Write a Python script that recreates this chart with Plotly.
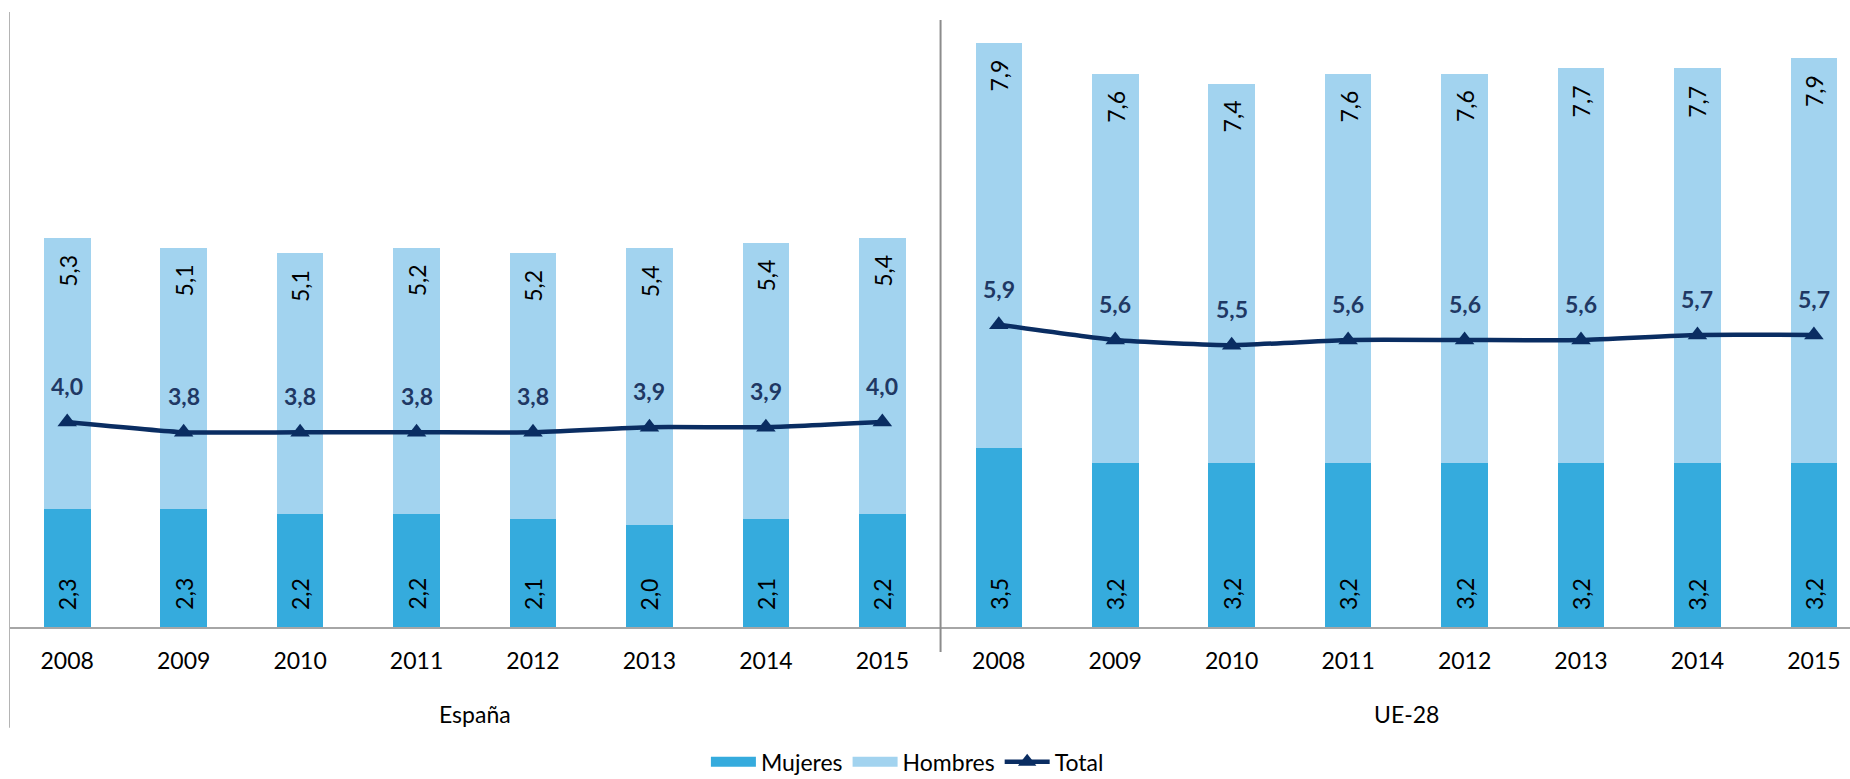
import plotly.graph_objects as go

years = ["2008", "2009", "2010", "2011", "2012", "2013", "2014", "2015"]
groups = ["España", "UE-28"]
mujeres_es = [2.3, 2.3, 2.2, 2.2, 2.1, 2.0, 2.1, 2.2]
hombres_es = [5.3, 5.1, 5.1, 5.2, 5.2, 5.4, 5.4, 5.4]
total_es = [4.0, 3.8, 3.8, 3.8, 3.8, 3.9, 3.9, 4.0]
mujeres_ue = [3.5, 3.2, 3.2, 3.2, 3.2, 3.2, 3.2, 3.2]
hombres_ue = [7.9, 7.6, 7.4, 7.6, 7.6, 7.7, 7.7, 7.9]
total_ue = [5.9, 5.6, 5.5, 5.6, 5.6, 5.6, 5.7, 5.7]

C_MUJ = "#35ABDD"
C_HOM = "#A2D3EF"
C_TOT = "#0A2D62"
C_LAB = "#1F3864"
FONT = "Lato, Calibri, sans-serif"
FS = 23

n = len(years)
x_es = list(range(n))
x_ue = [n + i for i in range(n)]
x_all = x_es + x_ue
mujeres = mujeres_es + mujeres_ue
hombres = hombres_es + hombres_ue


def fmt(v):
    return f"{v:.1f}".replace(".", ",")


fig = go.Figure()
fig.add_trace(go.Bar(x=x_all, y=mujeres, name="Mujeres", marker_color=C_MUJ,
                     width=0.4, marker_line_width=0, hoverinfo="skip",
                     legendgroup="muj", showlegend=False))
fig.add_trace(go.Bar(x=x_all, y=hombres, name="Hombres", marker_color=C_HOM,
                     width=0.4, marker_line_width=0, hoverinfo="skip",
                     legendgroup="hom", showlegend=False))
# legend-only entries with wide rectangular swatches
for name, col, grp in [("Mujeres", C_MUJ, "muj"), ("Hombres", C_HOM, "hom")]:
    fig.add_trace(go.Scatter(x=[None], y=[None], mode="lines", name=name, legendgroup=grp,
                             line=dict(color=col, width=16), hoverinfo="skip"))
for k, (xs, tot) in enumerate([(x_es, total_es), (x_ue, total_ue)]):
    fig.add_trace(go.Scatter(x=xs, y=tot, mode="lines+markers", name="Total",
                             legendgroup="total", showlegend=(k == 0),
                             line=dict(color=C_TOT, width=4.5, shape="spline", smoothing=0.5),
                             marker=dict(symbol="triangle-up", size=17, color=C_TOT)))

ann = []
for xi, m, h in zip(x_all, mujeres, hombres):
    ann.append(dict(x=xi, y=0, yshift=33, text=fmt(m), showarrow=False, textangle=-90,
                    xanchor="center", yanchor="middle", font=dict(size=FS, color="black")))
    ann.append(dict(x=xi, y=m + h, yshift=-33, text=fmt(h), showarrow=False, textangle=-90,
                    xanchor="center", yanchor="middle", font=dict(size=FS, color="black")))
for xs, tot in [(x_es, total_es), (x_ue, total_ue)]:
    for xi, t in zip(xs, tot):
        ann.append(dict(x=xi, y=t, yshift=36, text="<b>" + fmt(t) + "</b>", showarrow=False,
                        xanchor="center", yanchor="middle", font=dict(size=FS, color=C_LAB)))
for g, xs in zip(groups, [x_es, x_ue]):
    ann.append(dict(x=sum(xs) / len(xs), y=-0.1415, yref="paper", text=g, showarrow=False,
                    xanchor="center", yanchor="middle", font=dict(size=FS, color="black")))

shapes = [
    dict(type="line", xref="x", yref="paper", x0=-0.5, x1=-0.5, y0=1.0, y1=-0.164,
         line=dict(color="#B4B4B4", width=2)),
    dict(type="line", xref="x", yref="paper", x0=n - 0.5, x1=n - 0.5, y0=0.987, y1=-0.0407,
         line=dict(color="#8C8C8C", width=2)),
]

fig.update_layout(
    width=1850, height=779,
    margin=dict(l=9, r=0, t=12, b=152, autoexpand=False),
    barmode="stack",
    plot_bgcolor="white", paper_bgcolor="white",
    font=dict(family=FONT, size=FS, color="black"),
    annotations=ann, shapes=shapes,
    showlegend=True,
    legend=dict(orientation="h", x=0.488, xanchor="center", y=-0.254, yanchor="bottom",
                font=dict(size=FS), traceorder="normal", itemwidth=45,
                borderwidth=0, bgcolor="rgba(0,0,0,0)"),
    xaxis=dict(range=[-0.5, 15.31], tickmode="array", tickvals=x_all, ticktext=years + years,
               showline=True, linecolor="#A6A6A6", linewidth=2, showgrid=False, zeroline=False,
               ticks="", ticklabelstandoff=12, tickfont=dict(size=FS, color="black")),
    yaxis=dict(range=[0, 12], visible=False, showgrid=False, zeroline=False),
)

fig.write_html("out.html", config={"displayModeBar": False},
               post_script="document.body.style.margin='0px';document.body.style.overflow='hidden';")
